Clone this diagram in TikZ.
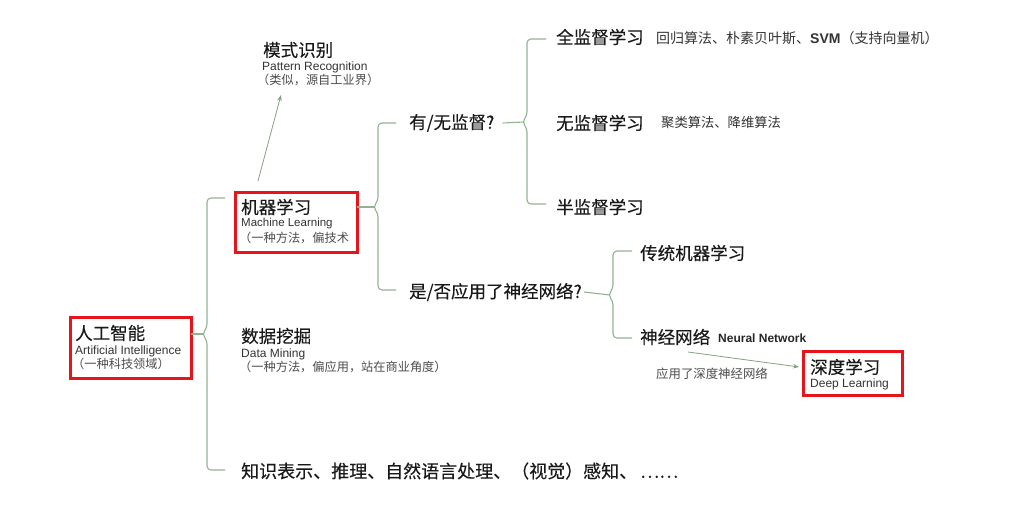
\documentclass[tikz,border=0pt]{standalone}
\usepackage{fontspec}
\setmainfont{Liberation Sans}
\newfontfamily\cjk{Noto Sans CJK SC}
\newfontfamily\cjkh[FakeBold=0.2]{Noto Sans CJK SC}
\usetikzlibrary{arrows.meta}
\definecolor{boxred}{HTML}{E8141B}
\definecolor{brg}{HTML}{93B293}
\newcommand\curbr[6]{% #1 stub start, #2 vx, #3 top, #4 mid, #5 bot, #6 xend
  \draw[br] (#6,#3) -- (#2,#3) -- (#2,{#4-6}) -- ({#2-5},#4) -- (#2,{#4+6}) -- (#2,#5) -- (#6,#5);
  \draw[stub] (#1) -- ({#2-3},#4);}
\begin{document}
\begin{tikzpicture}[x=1pt,y=-1pt,
  head/.style={anchor=west,inner sep=0,font=\cjkh\fontsize{17.5}{18}\selectfont,text=black!90},
  en/.style={anchor=west,inner sep=0,font=\fontsize{12}{12}\selectfont,text=black!80},
  enb/.style={anchor=west,inner sep=0,font=\bfseries\fontsize{12}{12}\selectfont,text=black!85},
  note/.style={anchor=west,inner sep=0,font=\cjk\fontsize{12.2}{12}\selectfont,text=black!70},
  desc/.style={anchor=west,inner sep=0,font=\cjk\fontsize{14}{14}\selectfont,text=black!80},
  redbox/.style={draw=boxred,line width=3pt,inner sep=0,outer sep=0,anchor=north west},
  br/.style={draw=brg,line width=1.1pt,rounded corners=4pt},
  stub/.style={draw=brg,line width=1.1pt},
  arr/.style={draw=brg!90!black,line width=0.8pt,-{Stealth[length=6pt,width=4.5pt]}}]
\useasboundingbox (0,0) rectangle (1030,526);

% red boxes
\node[redbox,minimum width=121pt,minimum height=60pt] (aibox) at (70,318) {};
\node[redbox,minimum width=122pt,minimum height=60pt] (mlbox) at (235,193) {};
\node[redbox,minimum width=99pt,minimum height=44pt] (dlbox) at (803,351) {};

% AI
\node[head] (ai1) at (75,333) {人工智能};
\node[en] (ai2) at (75,351) {Artificial Intelligence};
\node[note] (ai3) at (72,364) {（一种科技领域）};

% pattern recognition
\node[head] (pr1) at (263,50) {模式识别};
\node[en] (pr2) at (262,67) {Pattern Recognition};
\node[note] (pr3) at (257,80) {（类似，源自工业界）};

% machine learning
\node[head] (ml1) at (241,207) {机器学习};
\node[en,font=\fontsize{11.5}{12}\selectfont] (ml2) at (241,224) {Machine Learning};
\node[note] (ml3) at (239,238) {（一种方法，偏技术};

% data mining
\node[head] (dm1) at (241,336) {数据挖掘};
\node[en] (dm2) at (241,354) {Data Mining};
\node[note] (dm3) at (239,367) {（一种方法，偏应用，站在商业角度）};

% knowledge etc
\node[head,font=\cjkh\fontsize{18}{18}\selectfont] (kn) at (241,471) {知识表示、推理、自然语言处理、（视觉）感知、\,……};

% questions
\node[head] (q1) at (409,123) {有/无监督?};
\node[head] (q2) at (409,292) {是/否应用了神经网络?};

% supervision
\node[head] (s1) at (556,37) {全监督学习};
\node[desc] (s1d) at (656,38) {回归算法、朴素贝叶斯、{\normalfont\bfseries SVM}（支持向量机）};
\node[head] (s2) at (556,123) {无监督学习};
\node[desc,font=\cjk\fontsize{13.3}{13}\selectfont] (s2d) at (661,122) {聚类算法、降维算法};
\node[head] (s3) at (556,207) {半监督学习};

% neural networks
\node[head] (n1) at (640,253) {传统机器学习};
\node[head] (n2) at (640,337) {神经网络};
\node[enb] (n2e) at (718,338) {Neural Network};
\node[note,font=\cjk\fontsize{12.4}{12}\selectfont] (lab) at (656,374) {应用了深度神经网络};

% deep learning
\node[head] (dl1) at (810,367) {深度学习};
\node[en] (dl2) at (810,384) {Deep Learning};

% braces
\coordinate (b1s) at ([yshift=14pt]aibox.east);
\coordinate (b2s) at ([yshift=16pt]mlbox.east);
\coordinate (b3s) at ([xshift=8pt]q1.east);
\coordinate (b4s) at ([xshift=2pt]q2.east);
\curbr{b1s}{207}{198}{334}{470}{225}
\curbr{b2s}{378}{123}{207}{290}{396}
\curbr{b3s}{527}{39}{122}{204}{546}
\curbr{b4s}{613}{251}{295}{338}{632}

% arrows
\coordinate (a1s) at (258,181);
\coordinate (a1e) at (281,95);
\draw[arr] (a1s) -- (a1e);
\coordinate (a2s) at (688,352);
\coordinate (a2e) at (799,367);
\draw[arr] (a2s) -- (a2e);
\end{tikzpicture}
\end{document}
